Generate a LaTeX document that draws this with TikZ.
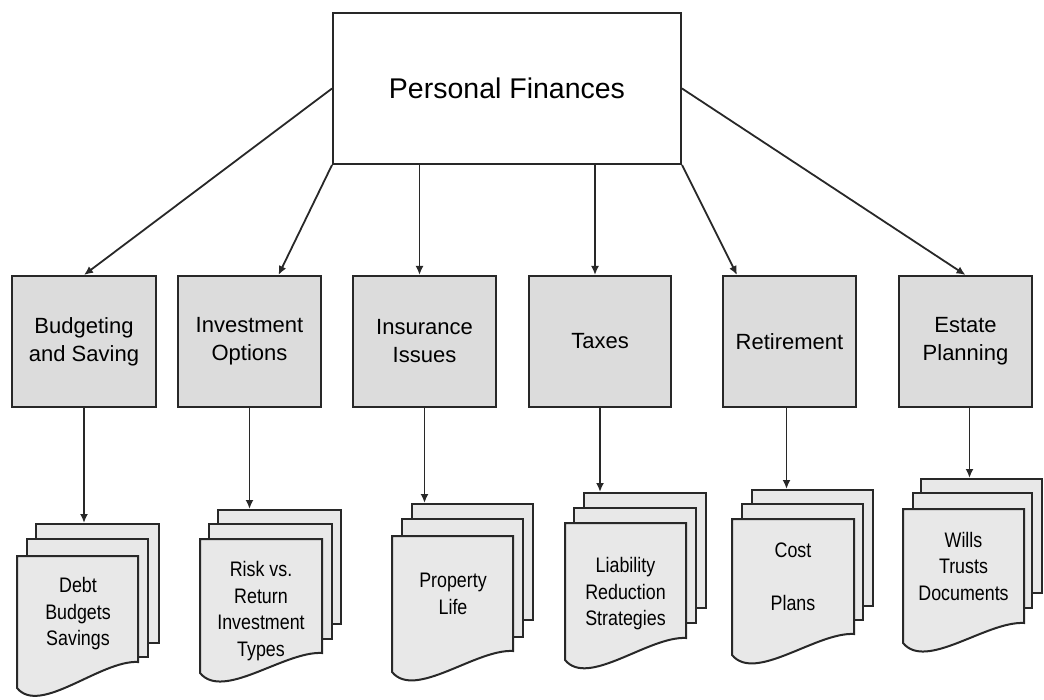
\documentclass[tikz,border=0pt]{standalone}
\usepackage{fontspec}
\setmainfont{Liberation Sans}
\newfontfamily\docfont[FakeStretch=0.85]{Liberation Sans}
\usetikzlibrary{arrows.meta,fit,calc}
\definecolor{boxgray}{RGB}{220,220,220}
\definecolor{docgray}{RGB}{232,232,232}
\definecolor{edge}{RGB}{40,40,40}
\tikzset{
  topbox/.style={draw=edge, line width=2pt, fill=white, minimum width=348pt, minimum height=151pt, inner sep=0pt, font=\fontsize{28.5}{34}\selectfont},
  catbox/.style={draw=edge, line width=2pt, fill=boxgray, minimum height=131pt, inner sep=0pt, align=center, font=\fontsize{22}{28}\selectfont},
  sheet/.style={draw=edge, line width=2pt, fill=docgray, inner sep=0pt},
  doctext/.style={align=center, inner sep=0pt, font=\docfont\fontsize{21}{26.5}\selectfont},
  arr/.style={draw=edge, line width=1.8pt, -{Latex[length=9pt,width=8pt]}},
}
\begin{document}
\begin{tikzpicture}[x=1pt,y=-1pt]
\useasboundingbox (0,0) rectangle (1044,700);
% top node
\node[topbox] (top) at (507,88.5) {Personal Finances};
% categories
\node[catbox, minimum width=144pt] (b1) at (84,341.5) {Budgeting\\and Saving};
\node[catbox, minimum width=143pt] (b2) at (249.5,341.5) {Investment\\Options};
\node[catbox, minimum width=143pt] (b3) at (424.5,341.5) {Insurance\\Issues};
\node[catbox, minimum width=142pt] (b4) at (600,341.5) {Taxes};
\node[catbox, minimum width=133pt] (b5) at (789.5,341.5) {Retirement};
\node[catbox, minimum width=133pt] (b6) at (965.5,341.5) {Estate\\Planning};
% document stacks
% 1
\node[sheet, fit={(36,524) (159,643)}] (d1c) {};
\node[sheet, fit={(27,539) (148,657)}] (d1b) {};
\path[sheet] (17,556) -- (138,556) -- (138,662) .. controls (100.5,660) and (40,716) .. (17,688) -- cycle;
\node[doctext] (d1) at (78,614) {Debt\\Budgets\\Savings};
% 2
\node[sheet, fit={(218,510) (341,624)}] (d2c) {};
\node[sheet, fit={(209,524) (332,639)}] (d2b) {};
\path[sheet] (200,539) -- (322,539) -- (322,653) .. controls (284.2,651) and (223.2,701) .. (200,673) -- cycle;
\node[doctext] (d2) at (261,611) {Risk vs.\\Return\\Investment\\Types};
% 3
\node[sheet, fit={(412,504) (533,620)}] (d3c) {};
\node[sheet, fit={(402,519) (523,637)}] (d3b) {};
\path[sheet] (392,536) -- (513,536) -- (513,651) .. controls (475.5,649) and (415,700) .. (392,672) -- cycle;
\node[doctext] (d3) at (453,594) {Property\\Life};
% 4
\node[sheet, fit={(584,493) (706,608)}] (d4c) {};
\node[sheet, fit={(574,508) (696,623)}] (d4b) {};
\path[sheet] (565,523) -- (686,523) -- (686,638) .. controls (648.5,636) and (588,688) .. (565,660) -- cycle;
\node[doctext] (d4) at (625.5,594) {Liability\\Reduction\\Strategies};
% 5
\node[sheet, fit={(752,490) (873,606)}] (d5c) {};
\node[sheet, fit={(742,504) (863,620)}] (d5b) {};
\path[sheet] (732,519) -- (854,519) -- (854,634) .. controls (816.2,632) and (755.2,683) .. (732,655) -- cycle;
\node[doctext] (d5) at (793,577) {Cost\\[26pt]Plans};
% 6
\node[sheet, fit={(921,479) (1042,593)}] (d6c) {};
\node[sheet, fit={(913,493) (1032,608)}] (d6b) {};
\path[sheet] (903,509) -- (1024,509) -- (1024,623) .. controls (986.5,621) and (926,671) .. (903,643) -- cycle;
\node[doctext] (d6) at (963.5,566) {Wills\\Trusts\\Documents};
% connectors from top
\draw[arr] (top.west) -- (b1.north);
\draw[arr] (top.south west) -- ($(b2.north west)!0.7!(b2.north east)$);
\draw[arr] ([xshift=-5pt]b3.north |- top.south) -- ([xshift=-5pt]b3.north);
\draw[arr] ([xshift=-5pt]b4.north |- top.south) -- ([xshift=-5pt]b4.north);
\draw[arr] (top.south east) -- ([xshift=15pt]b5.north west);
\draw[arr] (top.east) -- (b6.north);
% connectors to documents
\draw[arr] (b1.south) -- (b1.south |- d1c.north);
\draw[arr] (b2.south) -- (b2.south |- d2c.north);
\draw[arr] (b3.south) -- (b3.south |- d3c.north);
\draw[arr] (b4.south) -- (b4.south |- d4c.north);
\draw[arr] ([xshift=-3pt]b5.south) -- ([xshift=-3pt]b5.south |- d5c.north);
\draw[arr] ([xshift=4pt]b6.south) -- ([xshift=4pt]b6.south |- d6c.north);
\end{tikzpicture}
\end{document}
